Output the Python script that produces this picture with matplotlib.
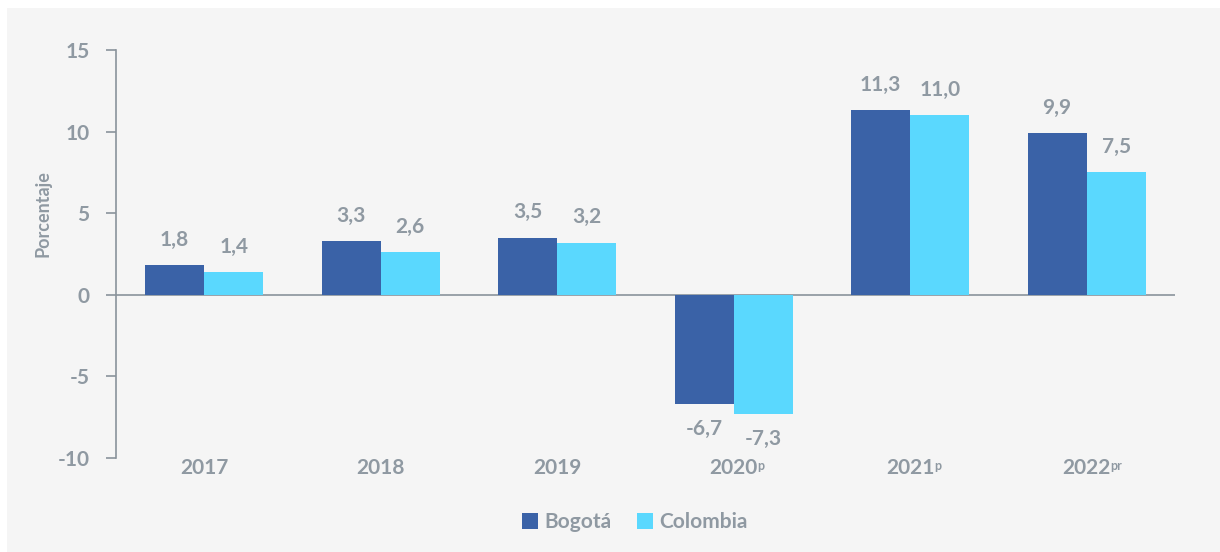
import numpy as np
import matplotlib.pyplot as plt
from matplotlib.patches import Rectangle

anios = ["2017", "2018", "2019", "2020", "2021", "2022"]
sufijos = ["", "", "", "p", "p", "pr"]
bogota = [1.8, 3.3, 3.5, -6.7, 11.3, 9.9]
colombia = [1.4, 2.6, 3.2, -7.3, 11.0, 7.5]

gris = "#8f99a2"
azul = "#3a62a7"
celeste = "#5ad8fe"

plt.rcParams['font.family'] = ['Lato', 'DejaVu Sans']
plt.rcParams['font.weight'] = 'bold'

fig = plt.figure(figsize=(12.2, 5.52), dpi=100)
fig.patch.set_facecolor("white")
fig.patches.append(Rectangle((7 / 1220, 0), 1, 1 - 8 / 552, transform=fig.transFigure,
                             facecolor="#f5f5f5", edgecolor="none", zorder=-10))

ax = fig.add_axes([116 / 1220, (552 - 458) / 552, (1175 - 116) / 1220, (458 - 50) / 552])
ax.set_facecolor("none")

x = np.arange(len(anios))
w = 0.335
b1 = ax.bar(x - w / 2, bogota, w, color=azul, label="Bogotá")
b2 = ax.bar(x + w / 2, colombia, w, color=celeste, label="Colombia")

for barras, vals in ((b1, bogota), (b2, colombia)):
    for r, v in zip(barras, vals):
        txt = f"{v:.1f}".replace(".", ",")
        cx = r.get_x() + r.get_width() / 2
        if v >= 0:
            ax.annotate(txt, (cx, v), xytext=(0, 11), textcoords="offset points",
                        ha="center", va="bottom", fontsize=15, color=gris, fontweight="bold")
        else:
            ax.annotate(txt, (cx, v), xytext=(0, -11), textcoords="offset points",
                        ha="center", va="top", fontsize=15, color=gris, fontweight="bold")

ax.set_xlim(-0.5, len(anios) - 0.5)
ax.set_ylim(-10, 15)
ax.set_yticks([-10, -5, 0, 5, 10, 15])
ax.set_yticklabels(["-10", "-5", "0", "5", "10", "15"])
ax.tick_params(axis="y", colors="#8a939b", labelcolor=gris, labelsize=15, length=7, width=1.2, pad=12)
ax.set_xticks([])

for s in ("top", "right", "bottom"):
    ax.spines[s].set_visible(False)
ax.spines["left"].set_color("#8a939b")
ax.spines["left"].set_linewidth(1.2)
ax.axhline(0, color="#8a939b", lw=1.2, zorder=0)

# etiquetas de los años con superíndice
for xi, a, s in zip(x, anios, sufijos):
    ax.annotate(a, (xi, -10), xytext=(0, 0), textcoords="offset points",
                ha="center", va="top", fontsize=15, color=gris, fontweight="bold")
    if s:
        ax.annotate(s, (xi, -10), xytext=(17, -1.5), textcoords="offset points",
                    ha="left", va="top", fontsize=9, color=gris, fontweight="bold")

ax.set_ylabel("Porcentaje", fontsize=13, color=gris, fontweight="bold")
ax.yaxis.set_label_coords(-0.061, 0.6)

leg = ax.legend(loc="upper center", bbox_to_anchor=(0.49, -0.087), ncol=2, frameon=False,
                fontsize=15, handlelength=0.8, handleheight=0.8, handletextpad=0.3,
                columnspacing=1.2)
for t in leg.get_texts():
    t.set_color(gris)

fig.savefig("out.png", dpi=100)
